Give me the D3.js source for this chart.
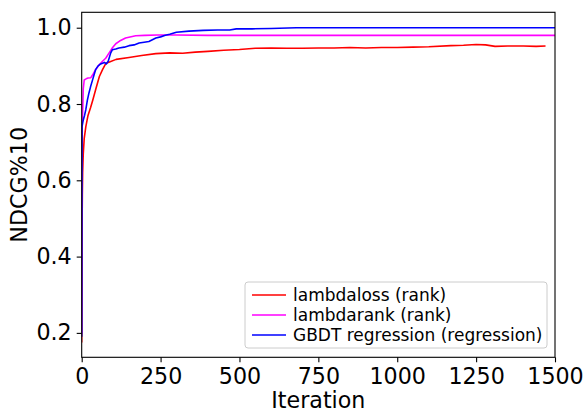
<!DOCTYPE html>
<html>
<head>
<meta charset="utf-8">
<script src="https://cdn.jsdelivr.net/npm/d3@7"></script>
<style>
  body { margin: 0; background: #fff; }
  text { font-family: "DejaVu Sans", sans-serif; fill: #000; }
</style>
</head>
<body>
<svg id="chart" width="587" height="411"></svg>
<script>
// values
const seriesNames = ["lambdaloss (rank)", "lambdarank (rank)", "GBDT regression (regression)"];
const seriesColors = ["#ff0000", "#ff00ff", "#0000ff"];

const lambdalossIter = [0, 1, 2, 3, 5, 8, 13, 20, 28, 35, 45, 56, 66, 77, 90, 109, 150, 190, 235, 279, 320, 360, 400, 450, 500, 550, 600, 650, 700, 750, 800, 850, 900, 950, 1000, 1050, 1100, 1170, 1210, 1250, 1280, 1310, 1350, 1400, 1440, 1470];
const lambdalossVal = [0.175, 0.45, 0.56, 0.62, 0.67, 0.71, 0.74, 0.77, 0.79, 0.81, 0.84, 0.872, 0.89, 0.907, 0.911, 0.917, 0.922, 0.927, 0.932, 0.934, 0.933, 0.936, 0.938, 0.941, 0.943, 0.946, 0.947, 0.946, 0.946, 0.947, 0.947, 0.948, 0.947, 0.948, 0.948, 0.949, 0.950, 0.953, 0.954, 0.956, 0.955, 0.951, 0.952, 0.952, 0.951, 0.952];

const lambdarankIter = [0, 1, 2, 3, 5, 8, 14, 20, 29, 36, 44, 55, 66, 76, 87, 98, 108, 120, 139, 171, 200, 240, 300, 400, 600, 800, 1000, 1200, 1500];
const lambdarankVal = [0.2, 0.72, 0.76, 0.78, 0.84, 0.863, 0.866, 0.868, 0.869, 0.878, 0.89, 0.902, 0.912, 0.92, 0.934, 0.948, 0.958, 0.965, 0.973, 0.979, 0.98, 0.981, 0.981, 0.98, 0.98, 0.98, 0.98, 0.98, 0.98];

const gbdtIter = [0, 1, 3, 5, 9, 13, 18, 23, 28, 34, 39, 44, 52, 60, 66, 72, 78, 84, 92, 97, 108, 118, 135, 150, 166, 182, 198, 213, 235, 250, 265, 279, 300, 340, 385, 430, 469, 490, 540, 600, 680, 800, 1000, 1200, 1500];
const gbdtVal = [0.19, 0.74, 0.75, 0.758, 0.77, 0.785, 0.81, 0.829, 0.845, 0.862, 0.876, 0.89, 0.9, 0.905, 0.907, 0.909, 0.905, 0.912, 0.934, 0.942, 0.944, 0.947, 0.949, 0.953, 0.955, 0.96, 0.962, 0.964, 0.973, 0.976, 0.98, 0.983, 0.988, 0.991, 0.993, 0.994, 0.994, 0.997, 0.997, 0.998, 1.0, 1.0, 1.0, 1.0, 1.0];

const xTicks = [0, 250, 500, 750, 1000, 1250, 1500];
const yTicks = [0.2, 0.4, 0.6, 0.8, 1.0];

const series = [
  lambdalossIter.map((x, i) => [x, lambdalossVal[i]]),
  lambdarankIter.map((x, i) => [x, lambdarankVal[i]]),
  gbdtIter.map((x, i) => [x, gbdtVal[i]])
];

const plotLeft = 81.7, plotRight = 555, plotTop = 12.3, plotBottom = 357.3;

const x = d3.scaleLinear().domain([0, 1500]).range([plotLeft, plotRight]);
const y = d3.scaleLinear().domain([0.136, 1.0404]).range([plotBottom, plotTop]);

const svg = d3.select("svg#chart");

svg.append("clipPath").attr("id", "plotclip")
  .append("rect")
  .attr("x", plotLeft).attr("y", plotTop)
  .attr("width", plotRight - plotLeft).attr("height", plotBottom - plotTop);

const line = d3.line().x(d => x(d[0])).y(d => y(d[1]));

svg.append("g").attr("clip-path", "url(#plotclip)")
  .selectAll("path")
  .data(series)
  .join("path")
  .attr("d", line)
  .attr("fill", "none")
  .attr("stroke", (_, i) => seriesColors[i])
  .attr("stroke-width", 1.6)
  .attr("stroke-linejoin", "round");

// axes
const xAxis = svg.append("g")
  .attr("transform", `translate(0,${plotBottom})`)
  .call(d3.axisBottom(x).tickValues(xTicks).tickFormat(d3.format("d")).tickSize(5).tickPadding(6));

const yAxis = svg.append("g")
  .attr("transform", `translate(${plotLeft},0)`)
  .call(d3.axisLeft(y).tickValues(yTicks).tickFormat(d3.format(".1f")).tickSize(5).tickPadding(5));

[xAxis, yAxis].forEach(g => {
  g.select(".domain").remove();
  g.selectAll("line").attr("stroke", "#000").attr("stroke-width", 1.1);
  g.selectAll("text").style("font-family", "DejaVu Sans").style("font-size", "22.2px").attr("fill", "#000");
});

// frame
svg.append("rect")
  .attr("x", plotLeft).attr("y", plotTop)
  .attr("width", plotRight - plotLeft).attr("height", plotBottom - plotTop)
  .attr("fill", "none")
  .attr("stroke", "#000")
  .attr("stroke-width", 1.1);

// axis labels
svg.append("text")
  .attr("x", (plotLeft + plotRight) / 2)
  .attr("y", 408)
  .attr("text-anchor", "middle")
  .style("font-size", "22.2px")
  .text("Iteration");

svg.append("text")
  .attr("transform", `translate(27,${(plotTop + plotBottom) / 2}) rotate(-90)`)
  .attr("text-anchor", "middle")
  .style("font-size", "22.2px")
  .text("NDCG%10");

// legend
const legend = svg.append("g");
legend.append("rect")
  .attr("x", 245).attr("y", 282)
  .attr("width", 302).attr("height", 66)
  .attr("rx", 3)
  .attr("fill", "#fff").attr("fill-opacity", 0.8)
  .attr("stroke", "#ccc").attr("stroke-width", 1);

const rows = legend.selectAll("g.row")
  .data(seriesNames)
  .join("g")
  .attr("class", "row")
  .attr("transform", (_, i) => `translate(0,${295 + i * 20})`);

rows.append("line")
  .attr("x1", 252).attr("x2", 286)
  .attr("stroke", (_, i) => seriesColors[i])
  .attr("stroke-width", 1.6);

rows.append("text")
  .attr("x", 293)
  .attr("dy", "0.36em")
  .style("font-size", "17px")
  .text(d => d);
</script>
</body>
</html>
